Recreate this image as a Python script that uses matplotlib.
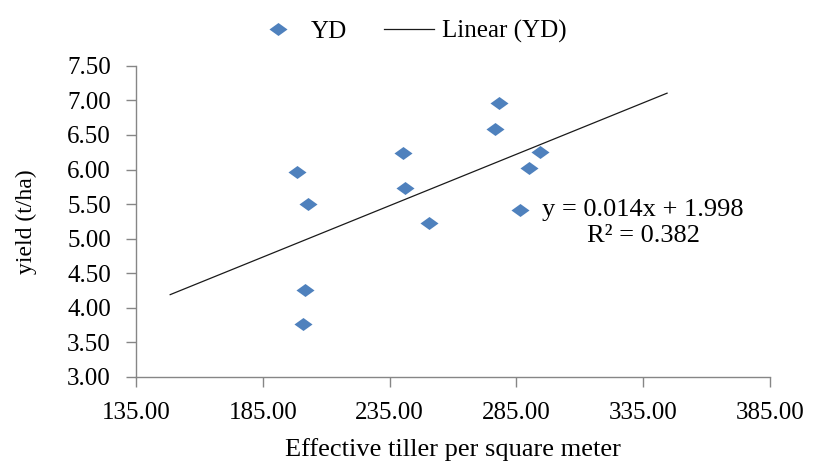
import numpy as np
import matplotlib
matplotlib.use('Agg')
import matplotlib.pyplot as plt

# Effective tiller per square meter vs yield (t/ha)
tillers = [198.5, 203.0, 201.7, 200.7, 240.1, 241.1, 250.6, 278.2, 276.6, 294.4, 290.0, 286.5]
yields = [5.96, 5.50, 4.25, 3.76, 6.24, 5.73, 5.22, 6.96, 6.58, 6.26, 6.02, 5.41]

# trendline as printed on the chart, with forecast both ways
slope, intercept = 0.01488, 1.98
forecast = 50
equation = "y = 0.014x + 1.998\nR\u00b2 = 0.382"

x_ticks = [135, 185, 235, 285, 335, 385]
y_ticks = [3.0, 3.5, 4.0, 4.5, 5.0, 5.5, 6.0, 6.5, 7.0, 7.5]

plt.rcParams['font.family'] = ['Liberation Serif', 'DejaVu Serif']

fig = plt.figure(figsize=(8.14, 4.67), dpi=100)
ax = fig.add_axes([0.167, 0.193, 0.779, 0.666])

diamond = [(-1, 0), (0, 0.72), (1, 0), (0, -0.72), (-1, 0)]
ax.plot(tillers, yields, linestyle='none', marker=diamond, markersize=13,
        color='#4F81BD', markeredgewidth=0, label='YD', zorder=3)

xl = np.array([min(tillers) - forecast, max(tillers) + forecast])
ax.plot(xl, slope * xl + intercept, color='#1a1a1a', lw=0.9, label='Linear (YD)', zorder=2)

ax.text(0.80, 0.495, equation, transform=ax.transAxes, ha='center', va='center',
        fontsize=19, multialignment='center', linespacing=1.2)

ax.set_xlim(135, 385)
ax.set_ylim(3.0, 7.5)
ax.set_xticks(x_ticks)
ax.set_yticks(y_ticks)
ax.set_xticklabels([f"{v:.2f}" for v in x_ticks])
ax.set_yticklabels([f"{v:.2f}" for v in y_ticks])

for s in ['top', 'right']:
    ax.spines[s].set_visible(False)
for s in ['left', 'bottom']:
    ax.spines[s].set_color('#868686')
    ax.spines[s].set_linewidth(1)
ax.tick_params(axis='both', direction='out', length=7, width=1, color='#868686',
               labelsize=18)
ax.tick_params(axis='x', pad=11)
ax.tick_params(axis='y', pad=11)

ax.set_xlabel('Effective tiller per square meter', fontsize=19, labelpad=10)
ax.set_ylabel('yield (t/ha)', fontsize=17, labelpad=22)

fig.legend(loc='upper center', bbox_to_anchor=(0.503, 1.005), ncol=2, frameon=False,
           fontsize=18, handlelength=2.0, columnspacing=1.5, handletextpad=0.3)

fig.savefig('out.png', dpi=100)
